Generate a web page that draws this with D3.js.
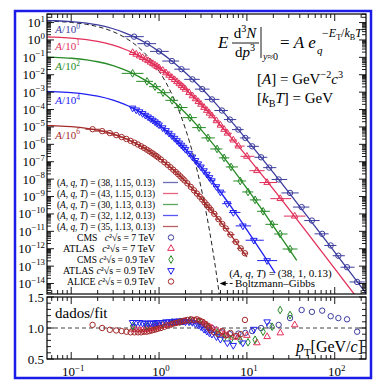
<!DOCTYPE html>
<html><head><meta charset="utf-8">
<script src="https://cdn.jsdelivr.net/npm/d3@7/dist/d3.min.js"></script>
<style>
body{margin:0;background:#fff}
svg{display:block}
text{font-family:"Liberation Serif","Times New Roman",Times,serif;white-space:pre}
</style></head><body>
<svg id="chart" width="390" height="390"></svg>
<script>
// ================= DATA =================
const seriesNames = ["CMS 7 TeV","ATLAS 7 TeV","CMS 0.9 TeV","ATLAS 0.9 TeV","ALICE 0.9 TeV"];
const fitParams   = ["(38, 1.15, 0.13)","(43, 1.15, 0.13)","(30, 1.13, 0.13)","(32, 1.12, 0.13)","(35, 1.13, 0.13)"];
const scaleExps   = [0,1,2,4,6];
const xTickExps   = [-1,0,1,2];
const yTickExps   = [1,0,-1,-2,-3,-4,-5,-6,-7,-8,-9,-10,-11,-12,-13,-14];
const ratioTicks  = [0.5,1.0,1.5];

// CMS 7 TeV
const cms7Pt    = [0.52,0.73,1.0,1.4,1.8,2.4,3.1,4.0,5.2,6.4,8.0,9.6,11.5,14.5,18,23,31,42,55,72,90,110,138,180];
const cms7Val   = [1.55,0.612,0.220,6.13e-2,2.09e-2,5.43e-3,1.49e-3,3.83e-4,8.81e-5,2.65e-5,7.03e-6,2.33e-6,7.66e-7,1.80e-7,4.58e-8,9.57e-9,1.61e-9,2.48e-10,4.16e-11,7.17e-12,1.54e-12,3.96e-13,8.66e-14,1.23e-14];
const cms7Ratio = [1.02,1.03,1.05,1.08,1.10,1.10,1.06,1.00,0.93,0.90,0.91,0.92,0.95,1.00,1.04,1.05,1.16,1.29,1.26,1.28,1.19,1.16,1.14,0.94];

// ATLAS 7 TeV (scaled /10)
const atlas7Pt    = [0.5,0.55,0.6,0.65,0.7,0.75,0.8,0.85,0.9,0.95,1.0,1.1,1.2,1.3,1.4,1.5,1.6,1.7,1.8,1.9,2.0,2.2,2.4,2.6,2.8,3.0,3.25,3.5,3.75,4.0,4.5,5.0,5.5,6.0,7.0,8.0,10,13,17,24,35];
const atlas7Val   = [0.188,0.150,0.120,0.0964,0.0782,0.0638,0.0524,0.0432,0.0357,0.0298,0.0249,0.0177,0.0128,9.33e-3,6.92e-3,5.20e-3,3.96e-3,3.04e-3,2.36e-3,1.85e-3,1.46e-3,9.33e-4,6.14e-4,4.13e-4,2.84e-4,2.00e-4,1.32e-4,8.89e-5,6.14e-5,4.33e-5,2.25e-5,1.25e-5,7.21e-6,4.36e-6,1.76e-6,7.94e-7,2.05e-7,3.06e-8,6.39e-9,7.56e-10,7.50e-11];
const atlas7Ratio = [0.98,0.97,0.97,0.97,0.98,0.98,0.99,1.00,1.01,1.02,1.03,1.04,1.05,1.06,1.07,1.08,1.09,1.09,1.10,1.10,1.11,1.11,1.12,1.12,1.11,1.10,1.08,1.05,1.02,1.00,0.97,0.93,0.90,0.88,0.85,0.85,0.88,0.76,0.86,0.92,1.05];

// CMS 0.9 TeV (scaled /10^2)
const cms09Pt    = [0.5,0.73,0.9,1.11,1.41,1.73,2.25,2.86,3.61,4.58,5.5,6.6,8.4,10.3,12.4,15.3,19.4,23.9,31];
const cms09Val   = [1.20e-2,4.17e-3,2.06e-3,9.31e-4,3.38e-4,1.30e-4,3.43e-5,9.16e-6,2.34e-6,5.41e-7,1.67e-7,5.02e-8,7.83e-9,1.83e-9,6.41e-10,1.42e-10,2.53e-11,7.04e-12,9.61e-13];
const cms09Ratio = [1.03,1.03,1.05,1.07,1.09,1.10,1.12,1.10,1.02,0.92,0.84,0.82,0.80,0.77,0.81,0.94,1.02,1.29,1.21];

// ATLAS 0.9 TeV (scaled /10^4)
const atlas09Pt    = [0.5,0.55,0.6,0.65,0.7,0.75,0.8,0.85,0.9,0.95,1.0,1.1,1.2,1.3,1.4,1.5,1.6,1.7,1.8,1.9,2.0,2.2,2.4,2.6,2.8,3.0,3.25,3.5,3.75,4.0,4.5,5.0,6.0,7.0,9.0,12.0,17.0];
const atlas09Val   = [1.22e-4,9.55e-5,7.50e-5,5.93e-5,4.71e-5,3.77e-5,3.02e-5,2.44e-5,1.98e-5,1.61e-5,1.32e-5,9.00e-6,6.21e-6,4.37e-6,3.11e-6,2.24e-6,1.64e-6,1.21e-6,9.02e-7,6.81e-7,5.18e-7,3.07e-7,1.88e-7,1.18e-7,7.62e-8,5.01e-8,3.05e-8,1.92e-8,1.23e-8,8.09e-9,3.71e-9,1.82e-9,3.89e-10,1.22e-10,2.05e-11,3.08e-12,2.08e-13];
const atlas09Ratio = [1.09,1.09,1.09,1.08,1.08,1.08,1.08,1.08,1.08,1.09,1.09,1.09,1.10,1.10,1.10,1.11,1.11,1.11,1.11,1.11,1.10,1.10,1.09,1.07,1.05,1.02,0.98,0.95,0.92,0.90,0.86,0.82,0.76,0.72,0.76,0.98,1.10];

// ALICE 0.9 TeV (scaled /10^6)
const alicePt    = [0.175,0.225,0.275,0.325,0.375,0.425,0.475,0.525,0.575,0.625,0.675,0.725,0.775,0.825,0.875,0.925,0.975,1.05,1.15,1.25,1.35,1.45,1.55,1.65,1.75,1.85,1.95,2.1,2.3,2.5,2.7,2.9,3.1,3.3,3.5,3.7,3.9,4.25,4.75,5.25,5.75,6.5,7.5,8.5,9.5];
const aliceVal   = [7.39e-6,5.74e-6,4.43e-6,3.40e-6,2.62e-6,2.04e-6,1.58e-6,1.24e-6,9.79e-7,7.76e-7,6.21e-7,4.97e-7,4.01e-7,3.26e-7,2.65e-7,2.18e-7,1.79e-7,1.35e-7,9.40e-8,6.65e-8,4.78e-8,3.48e-8,2.56e-8,1.91e-8,1.44e-8,1.09e-8,8.39e-9,5.75e-9,3.56e-9,2.27e-9,1.48e-9,9.89e-10,6.73e-10,4.67e-10,3.29e-10,2.36e-10,1.71e-10,1.01e-10,5.01e-11,2.64e-11,1.46e-11,6.49e-12,2.48e-12,1.05e-12,5.5e-13];
const aliceRatio = [1.05,1.00,0.97,0.96,0.95,0.94,0.93,0.93,0.93,0.93,0.94,0.94,0.95,0.96,0.97,0.98,0.99,1.00,1.02,1.04,1.05,1.07,1.08,1.09,1.10,1.11,1.12,1.13,1.14,1.13,1.14,1.12,1.10,1.07,1.04,1.00,0.96,0.93,0.90,0.95,0.88,0.92,0.87,0.90,1.13];

// Fit curves
const fitCms7Pt   = [0.053,0.06,0.1,0.15,0.2,0.3,0.4,0.5,0.7,1,1.5,2,3,4,5,7,10,15,20,30,40,50,70,100,150,200,250];
const fitCms7Val  = [13.2,12.9,11.4,9.20,7.26,4.40,2.67,1.66,0.692,0.220,4.60e-2,1.29e-2,1.77e-3,3.83e-4,1.10e-4,1.56e-5,1.82e-6,1.45e-7,2.34e-8,1.72e-9,2.65e-10,6.15e-11,6.75e-12,6.41e-13,4.39e-14,6.50e-15,1.48e-15];
const fitAtlas7Pt  = [0.053,0.06,0.1,0.15,0.2,0.3,0.4,0.5,0.7,1,1.5,2,3,4,5,7,10,15,20,30,40,50,70,100,150,200];
const fitAtlas7Val = [1.49,1.46,1.29,1.04,0.820,0.497,0.302,0.188,0.0782,0.0249,5.20e-3,1.46e-3,2.00e-4,4.33e-5,1.25e-5,1.76e-6,2.05e-7,1.64e-8,2.64e-9,1.95e-10,2.99e-11,6.95e-12,7.62e-13,7.24e-14,4.95e-15,7.35e-16];
const fitCms09Pt   = [0.053,0.06,0.1,0.15,0.2,0.3,0.4,0.5,0.7,1,1.5,2,3,4,5,7,10,15,20,30,37];
const fitCms09Val  = [0.103,0.1007,0.0885,0.0713,0.0558,0.0333,0.0198,0.0120,4.75e-3,1.40e-3,2.55e-4,6.34e-5,6.97e-6,1.26e-6,3.09e-7,3.38e-8,2.92e-9,1.64e-10,2.02e-11,1.01e-12,2.11e-13];
const fitAtlas09Pt  = [0.053,0.06,0.1,0.15,0.2,0.3,0.4,0.5,0.7,1,1.5,2,3,4,5,7,10,15,21];
const fitAtlas09Val = [1.09e-3,1.07e-3,9.38e-4,7.53e-4,5.89e-4,3.47e-4,2.04e-4,1.22e-4,4.71e-5,1.32e-5,2.24e-6,5.18e-7,5.01e-8,8.09e-9,1.82e-9,1.70e-10,1.23e-11,5.52e-13,3.93e-14];
const fitAlicePt  = [0.053,0.06,0.1,0.15,0.2,0.3,0.4,0.5,0.7,1,1.5,2,3,4,5,7,10];
const fitAliceVal = [1.20e-5,1.17e-5,1.03e-5,8.32e-6,6.52e-6,3.88e-6,2.31e-6,1.40e-6,5.55e-7,1.63e-7,2.98e-8,7.40e-9,8.13e-10,1.47e-10,3.61e-11,3.94e-12,3.41e-13];
// Boltzmann-Gibbs (A,q,T)=(38,1,0.13)
const bgPt  = [0.053,0.06,0.1,0.15,0.2,0.3,0.4,0.5,0.6,0.7,0.8,1,1.2,1.5,2,2.5,3,3.5,4,4.5,5];
const bgVal = [12.0,11.8,10.1,7.83,5.82,2.98,1.46,0.702,0.333,0.157,7.36e-2,1.61e-2,3.50e-3,3.52e-4,7.62e-6,1.64e-7,3.52e-9,7.55e-11,1.62e-12,3.47e-14,7.41e-16];

// ================= CHART =================
const colors = ["#3d3d9e","#e2305a","#268a26","#2020f0","#a32a2a"];
const symbols = ["circle","triUp","diamond","triDown","circle"];
const series = [
  {pt:cms7Pt, val:cms7Val, ratio:cms7Ratio, fpt:fitCms7Pt, fval:fitCms7Val},
  {pt:atlas7Pt, val:atlas7Val, ratio:atlas7Ratio, fpt:fitAtlas7Pt, fval:fitAtlas7Val},
  {pt:cms09Pt, val:cms09Val, ratio:cms09Ratio, fpt:fitCms09Pt, fval:fitCms09Val},
  {pt:atlas09Pt, val:atlas09Val, ratio:atlas09Ratio, fpt:fitAtlas09Pt, fval:fitAtlas09Val},
  {pt:alicePt, val:aliceVal, ratio:aliceRatio, fpt:fitAlicePt, fval:fitAliceVal}
].map((s,i)=>Object.assign(s,{name:seriesNames[i],color:colors[i],sym:symbols[i],params:fitParams[i],exp:scaleExps[i]}));

const svg = d3.select("#chart");
const L=47, R=366, T1=14, B1=294, T2=297, B2=359;
const x  = d3.scaleLog().domain([0.053,227]).range([L,R]);
const y  = d3.scaleLog().domain([2.5e-15,31]).range([B1,T1]);
const yr = d3.scaleLinear().domain([0.5,1.5]).range([B2,T2]);

svg.append("rect").attr("width",390).attr("height",390).attr("fill","#fff");
// blue outer frame
svg.append("rect").attr("x",15).attr("y",11).attr("width",356).attr("height",367)
   .attr("fill","none").attr("stroke","#1c1ce8").attr("stroke-width",2.5);

const defs = svg.append("defs");
defs.append("clipPath").attr("id","cp1").append("rect").attr("x",L).attr("y",T1).attr("width",R-L).attr("height",B1-T1);
defs.append("clipPath").attr("id","cp2").append("rect").attr("x",L).attr("y",T2).attr("width",R-L).attr("height",B2-T2);

// rich text helper
function rich(g, px, py, parts, size, opts={}){
  const t = g.append("text").attr("x",px).attr("y",py).attr("font-size",size)
    .attr("text-anchor",opts.anchor||"start").attr("fill",opts.fill||"#000");
  if(opts.len){ t.attr("textLength",opts.len).attr("lengthAdjust","spacingAndGlyphs"); }
  let cur=0;
  parts.forEach(([s,st=""])=>{
    let off=0, fs=size;
    if(st.includes("^")){off=-size*0.42; fs=size*0.68;}
    if(st.includes("_")){off=size*0.28; fs=size*0.68;}
    const ts=t.append("tspan").text(s).attr("font-size",fs).attr("dy",off-cur);
    if(st.includes("i")) ts.attr("font-style","italic");
    cur=off;
  });
  return t;
}

// symbol paths
const symGen = {
  circle: d3.symbol(d3.symbolCircle, 23)(),
  triUp: d3.symbol(d3.symbolTriangle, 19)(),
  triDown: d3.symbol(d3.symbolTriangle, 19)(),
  diamond: d3.symbol(d3.symbolDiamond, 17)()
};
function drawSym(g, type, cx, cy, color){
  g.append("path").attr("d",symGen[type])
   .attr("transform",`translate(${cx},${cy})`+(type==="triDown"?" rotate(180)":""))
   .attr("fill","none").attr("stroke",color).attr("stroke-width",1);
}

// ---------- top panel ----------
const topG = svg.append("g");
const topClip = topG.append("g").attr("clip-path","url(#cp1)");
const line = d3.line().x(d=>x(d[0])).y(d=>y(d[1])).curve(d3.curveMonotoneX);

// BG dashed
topClip.append("path").attr("d",line(bgPt.map((p,i)=>[p,bgVal[i]])))
  .attr("fill","none").attr("stroke","#222").attr("stroke-width",1).attr("stroke-dasharray","4.5,3");

series.forEach(s=>{
  topClip.append("path").attr("d",line(s.fpt.map((p,i)=>[p,s.fval[i]])))
    .attr("fill","none").attr("stroke",s.color).attr("stroke-width",1.3);
});
series.forEach(s=>{
  const lp = s.pt.map(p=>Math.log10(p));
  s.pt.forEach((p,i)=>{
    const prev = i>0 ? lp[i-1] : 2*lp[i]-lp[i+1];
    const next = i<lp.length-1 ? lp[i+1] : 2*lp[i]-lp[i-1];
    const lo = Math.pow(10, lp[i]-0.75*(lp[i]-prev));
    const hi = Math.pow(10, lp[i]+0.75*(next-lp[i]));
    topClip.append("line").attr("x1",x(lo)).attr("x2",x(hi)).attr("y1",y(s.val[i])).attr("y2",y(s.val[i]))
      .attr("stroke",s.color).attr("stroke-width",1);
    drawSym(topClip, s.sym, x(p), y(s.val[i]), s.color);
  });
});

// ---------- ratio panel ----------
const botG = svg.append("g");
const botClip = botG.append("g").attr("clip-path","url(#cp2)");
botClip.append("line").attr("x1",L).attr("x2",R).attr("y1",yr(1)).attr("y2",yr(1))
  .attr("stroke","#444").attr("stroke-width",1).attr("stroke-dasharray","4,3");
series.forEach(s=>{
  s.pt.forEach((p,i)=>drawSym(botClip, s.sym, x(p), yr(s.ratio[i]), s.color));
});

// ---------- axes ----------
const ax = svg.append("g").attr("stroke","#000");
[[T1,B1],[T2,B2]].forEach(([t,b])=>{
  ax.append("rect").attr("x",L).attr("y",t).attr("width",R-L).attr("height",b-t).attr("fill","none").attr("stroke-width",1.2);
});
function tk(x1,y1,x2,y2){ ax.append("line").attr("x1",x1).attr("y1",y1).attr("x2",x2).attr("y2",y2).attr("stroke-width",0.9); }
const isMajor = v => Math.abs(Math.log10(v)-Math.round(Math.log10(v)))<1e-6;
x.ticks().forEach(v=>{
  const px=x(v), len=isMajor(v)?7:4;
  tk(px,T1,px,T1+len); tk(px,B1,px,B1-len);
  tk(px,T2,px,T2+len); tk(px,B2,px,B2-len);
});
for(let e=-15;e<=1;e++){
  for(let k=1;k<=9;k++){
    const v=k*Math.pow(10,e);
    if(v<2.5e-15||v>31) continue;
    const py=y(v), len=k===1?7:4;
    tk(L,py,L+len,py); tk(R,py,R-len,py);
  }
}
for(let k=5;k<=15;k++){
  const v=k/10, py=yr(v), len=(k%5===0)?7:4;
  tk(L,py,L+len,py); tk(R,py,R-len,py);
}

// tick labels
const lab = svg.append("g");
yTickExps.forEach(e=>{
  rich(lab, 45, y(Math.pow(10,e))+4.5, [["10"],[String(e).replace("-","\u2212"),"^"]], 13, {anchor:"end"});
});
ratioTicks.forEach(v=>{
  lab.append("text").attr("x",44).attr("y",yr(v)+4.5).attr("text-anchor","end").attr("font-size",13).text(v.toFixed(1));
});
xTickExps.forEach(e=>{
  rich(lab, x(Math.pow(10,e))+2, 376, [["10"],[String(e).replace("-","\u2212"),"^"]], 13, {anchor:"middle"});
});

// axis captions
rich(lab, 55, 318, [["dados/fit"]], 15);
rich(lab, 363, 352, [["p","i"],["T","_"],["[GeV/"],["c","i"],["]"]], 16, {anchor:"end"});

// series scale labels
series.forEach(s=>{
  rich(lab, x(0.066), y(s.fval[0])+13, [["A","i"],["/10"],[String(s.exp),"^"]], 11, {fill:s.color});
});

// legend
const leg = svg.append("g");
const rowY = i => 186 + i*11;
series.forEach((s,i)=>{
  rich(leg, 155, rowY(i), [["("],["A","i"],[", "],["q","i"],[", "],["T","i"],[") = "+s.params]], 10, {anchor:"end", len:98});
  leg.append("line").attr("x1",163).attr("x2",178).attr("y1",rowY(i)-3.5).attr("y2",rowY(i)-3.5)
    .attr("stroke",s.color).attr("stroke-width",1.3).attr("opacity",0.75);
});
const legNames = [["CMS   ","7 TeV"],["ATLAS   ","7 TeV"],["CMS ","0.9\u2009TeV"],["ATLAS ","0.9\u2009TeV"],["ALICE ","0.9\u2009TeV"]];
const legLens = [78,92,78,92,88];
series.forEach((s,i)=>{
  const r=i+5;
  rich(leg, 155, rowY(r), [[legNames[i][0]],["c","i"],["\u00B2\u221As = "+legNames[i][1]]], 10, {anchor:"end", len:legLens[i]});
  drawSym(leg, s.sym, 171, rowY(r)-3.5, s.color);
});

// Boltzmann-Gibbs annotation
const tipX = x(4.9), tipY = y(1e-14);
svg.append("line").attr("x1",tipX+5).attr("x2",x(7.0)).attr("y1",tipY).attr("y2",tipY)
  .attr("stroke","#000").attr("stroke-width",0.9).attr("stroke-dasharray","3,2");
svg.append("path").attr("d",`M${tipX},${tipY} l6,-2.5 l0,5 z`).attr("fill","#000");
rich(svg, x(7.3), tipY+3.8, [["Boltzmann\u2013Gibbs"]], 11);
rich(svg, x(6.3), tipY-7, [["("],["A","i"],[", "],["q","i"],[", "],["T","i"],[") = (38, 1, 0.13)"]], 11);

// Equation block
const eq = svg.append("g");
rich(eq, 218, 48, [["E","i"]], 17);
rich(eq, 245, 38, [["d"],["3","^"],["N","i"]], 15, {anchor:"middle"});
eq.append("line").attr("x1",232).attr("x2",259).attr("y1",43).attr("y2",43).attr("stroke","#000").attr("stroke-width",0.9);
rich(eq, 245, 57, [["d"],["p","i"],["3","^"]], 15, {anchor:"middle"});
eq.append("line").attr("x1",261).attr("x2",261).attr("y1",27).attr("y2",58).attr("stroke","#000").attr("stroke-width",0.9);
rich(eq, 263, 60, [["y","i"],["\u22480"]], 10);
rich(eq, 280, 48, [["= "],["A","i"],[" e","i"]], 17);
rich(eq, 317, 54, [["q","i"]], 11);
rich(eq, 322, 37, [["\u2212"],["E","i"],["T","_"],["/"],["k","i"],["B","_"],["T","i"]], 12);
rich(eq, 257, 84, [["["],["A","i"],["] = GeV"],["\u22122","^"],["c","i"],["3","^"]], 15);
rich(eq, 257, 103, [["["],["k","i"],["B","_"],["T","i"],["] = GeV"]], 15);
</script>
</body></html>
